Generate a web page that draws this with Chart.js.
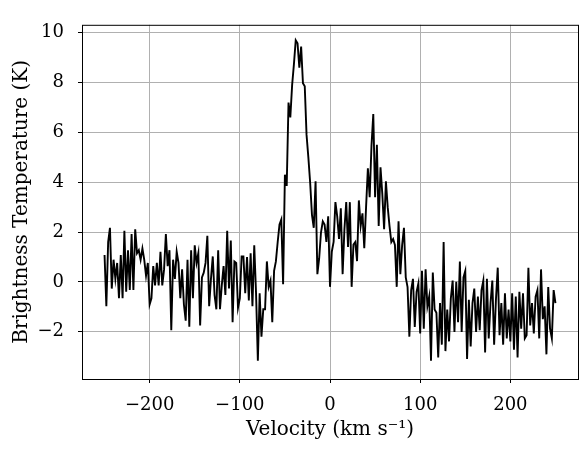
<!DOCTYPE html>
<html>
<head>
<meta charset="utf-8">
<script src="https://cdn.jsdelivr.net/npm/chart.js@4.4.0/dist/chart.umd.min.js"></script>
<style>
  html, body { margin: 0; padding: 0; background: #fff; }
  #chart { display: block; }
</style>
</head>
<body>
<canvas id="chart" width="587" height="454"></canvas>
<script>
// channel grid of the spectrum (km/s)
const velStart = -250;
const velStep = 2;

// brightness temperature per channel (K)
const tb = [
    1.08, -0.98, 1.6, 2.17, -0.27, 0.89, 0.12, 0.76, -0.66, 1.08,
    -0.66, 2.05, -0.4, 1.27, -0.33, 1.92, -0.33, 2.11, 1.15, 1.27,
    0.89, 1.34, 0.89, 0.25, 0.76, -0.91, -0.66, 0.63, -0.14, 0.76,
    -0.14, 1.21, -0.14, 0.5, 1.92, 0.63, 1.27, -1.94, 0.89, 0.12,
    1.21, 0.76, -0.66, 0.5, -0.91, -1.56, 0.89, -1.8, 1.27, -0.66,
    1.47, 0.76, 1.15, -1.75, 0.18, 0.37, 0.76, 1.85, -0.98, 0.12,
    1.02, -0.53, -1.1, 1.27, -1.1, -0.14, 0.63, -0.53, 2.05, -0.27,
    1.66, -1.62, 0.82, 0.76, -1.04, -0.66, 1.02, 1.02, -0.46, 1.0,
    -0.75, 1.15, -0.98, 1.47, -0.46, -3.17, -0.46, -2.2, -1.1, -1.1,
    0.82, -0.2, 0.05, -1.62, 0.44, 0.82, 1.6, 2.3, 2.5, -0.1,
    4.3, 3.85, 7.2, 6.6, 7.9, 8.74, 9.7, 9.58, 8.6, 9.45,
    7.97, 7.85, 5.9, 5.0, 3.98, 2.69, 2.17, 4.04, 0.31, 0.95,
    1.98, 2.43, 2.3, 1.6, 2.63, -0.2, 1.21, 1.6, 3.2, 2.63,
    1.72, 2.95, 0.31, 2.11, 3.2, 1.4, 3.2, -0.2, 1.5, 1.6,
    0.83, 3.27, 2.24, 2.75, 1.35, 3.0, 4.56, 3.4, 5.46, 6.74,
    3.4, 5.5, 2.24, 4.6, 3.53, 2.11, 4.04, 3.0, 2.24, 1.6,
    1.72, 1.48, -0.2, 2.43, 0.31, 1.48, 2.17, 0.18, -0.21, -2.2,
    -0.33, 0.12, -1.81, -0.4, -0.06, -2.07, 0.44, -1.88, 0.5, -0.98,
    -0.59, -3.17, 0.37, -1.11, -1.24, -3.04, -0.85, -2.52, 1.6, -2.78,
    -1.11, -2.39, -0.66, 0.05, -2.01, 0.0, -1.62, 0.82, -2.01, 0.18,
    0.44, -3.1, -0.72, -2.59, -0.85, -0.27, -2.01, -0.59, -1.94, -0.33,
    0.05, -2.84, 0.12, -2.27, -0.85, 0.05, -2.52, -0.72, 0.57, -2.14,
    -0.85, -2.52, -0.46, -2.27, -1.11, -2.39, -0.46, -2.72, -0.59, -3.04,
    -0.4, -1.88, -0.46, -2.27, -2.14, 0.57, -1.75, -0.85, -2.07, -0.59,
    -0.33, -2.27, 0.5, -1.5, -0.98, -2.91, -0.21, -1.88, -2.27, -0.33,
    -0.85
];

const xTicks = [-200, -100, 0, 100, 200];
const yTicks = [-2, 0, 2, 4, 6, 8, 10];

const velocity = tb.map((_, i) => velStart + i * velStep);

// matplotlib style minus sign
const fmt = (v) => String(v).replace('-', '\u2212');

const tickFont = { family: "'DejaVu Serif', serif", size: 18 };
const titleFont = { family: "'DejaVu Serif', serif", size: 20 };

// draws the four spines on top of the line
const frame = {
    id: 'frame',
    afterDatasetsDraw(chart) {
        const { ctx, chartArea: a } = chart;
        ctx.save();
        ctx.strokeStyle = '#000';
        ctx.lineWidth = 1;
        ctx.strokeRect(a.left + 0.5, a.top + 0.5, a.right - a.left, a.bottom - a.top);
        ctx.restore();
    }
};

const ctx = document.getElementById('chart').getContext('2d');
new Chart(ctx, {
    type: 'line',
    data: {
        datasets: [{
            data: velocity.map((v, i) => ({ x: v, y: tb[i] })),
            borderColor: '#000',
            borderWidth: 1.9,
            pointRadius: 0,
            tension: 0,
            fill: false
        }]
    },
    options: {
        responsive: false,
        animation: false,
        devicePixelRatio: 1,
        layout: { padding: { top: 10, right: 9, left: 0, bottom: 0 } },
        plugins: {
            legend: { display: false },
            tooltip: { enabled: false }
        },
        scales: {
            x: {
                type: 'linear',
                min: -275,
                max: 275,
                afterBuildTicks: (s) => { s.ticks = xTicks.map(v => ({ value: v })); },
                afterFit: (s) => { s.height = 75; },
                grid: { color: '#b0b0b0', lineWidth: 1, tickColor: '#000', tickLength: 4 },
                border: { display: false },
                ticks: { color: '#000', font: tickFont, padding: 12, maxRotation: 0, autoSkip: false, callback: (v) => fmt(v) },
                title: { display: true, text: 'Velocity (km s\u207B\u00B9)', color: '#000', font: titleFont, padding: { top: 0, bottom: 12 } }
            },
            y: {
                type: 'linear',
                min: -3.9,
                max: 10.32,
                afterBuildTicks: (s) => { s.ticks = yTicks.map(v => ({ value: v })); },
                afterFit: (s) => { s.width = 82; },
                grid: { color: '#b0b0b0', lineWidth: 1, tickColor: '#000', tickLength: 4 },
                border: { display: false },
                ticks: { color: '#000', font: tickFont, padding: 14, autoSkip: false, callback: (v) => fmt(v) },
                title: { display: true, text: 'Brightness Temperature (K)', color: '#000', font: titleFont, padding: { top: 10, bottom: 0 } }
            }
        }
    },
    plugins: [frame]
});
</script>
</body>
</html>
